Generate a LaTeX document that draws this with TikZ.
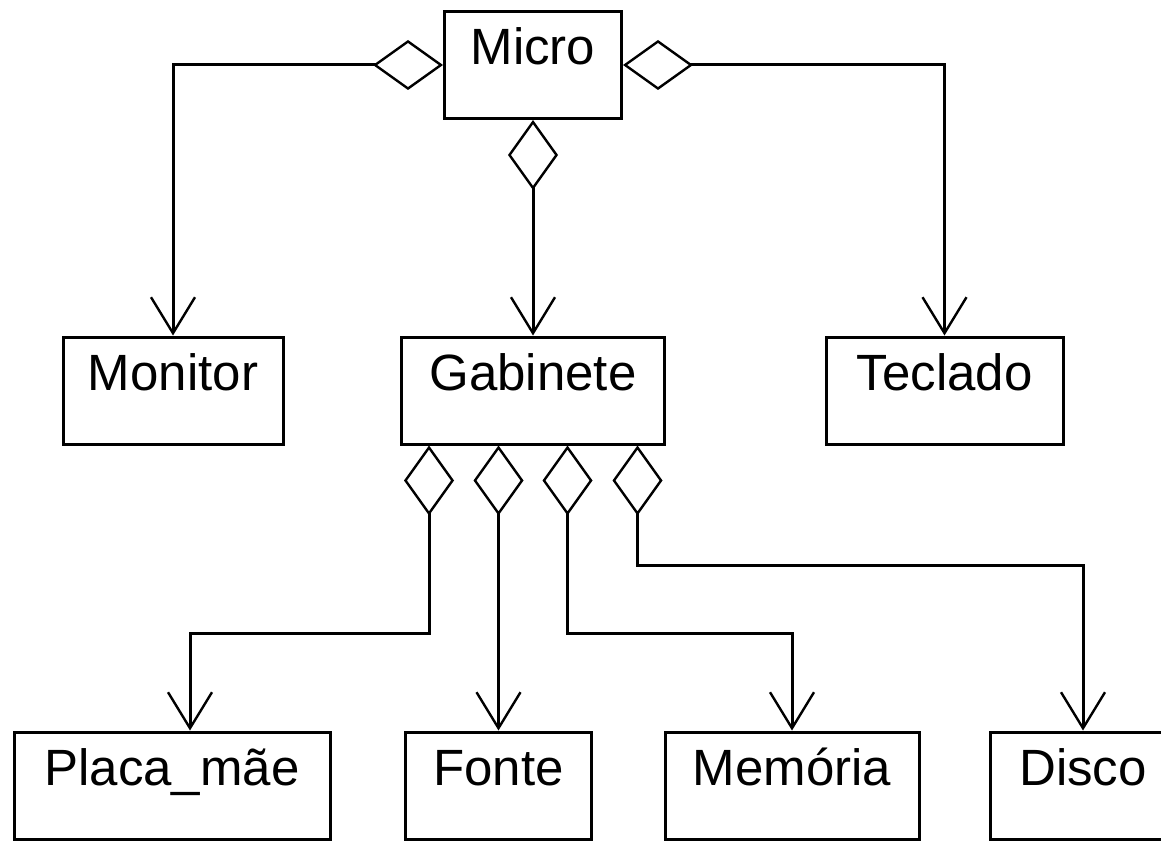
\documentclass[tikz,border=0pt]{standalone}
\usepackage{fontspec}
\setmainfont{Liberation Sans}
\usetikzlibrary{arrows.meta}
\begin{document}
\begin{tikzpicture}[x=1pt,y=-1pt,
  classbox/.style={draw, line width=3pt, inner xsep=0pt, inner ysep=0pt,
    minimum height=107pt, text height=53pt, text depth=54pt,
    font=\fontsize{51}{51}\selectfont},
  aggr/.style={line width=3pt,
    {Diamond[fill=white,length=70pt,width=50pt,line width=2.4pt]}-{Straight Barb[length=36pt,width=44pt,line width=2.4pt]}}
]
\clip (0,0) rectangle (1161,840);
\fill[white] (0,0) rectangle (1161,840);

% classes
\node[classbox, minimum width=177pt] (micro) at (533,65) {Micro};
\node[classbox, minimum width=220pt] (monitor) at (173,390.5) {Monitor};
\node[classbox, minimum width=263pt] (gab) at (533,390.5) {Gabinete};
\node[classbox, minimum width=237pt] (tec) at (944.5,390.5) {Teclado};
\node[classbox, minimum width=316pt] (placa) at (172,785.5) {Placa\_mãe};
\node[classbox, minimum width=186pt] (fonte) at (498.5,785.5) {Fonte};
\node[classbox, minimum width=254pt] (mem) at (792,785.5) {Memória};
\node[classbox, minimum width=186pt] (disco) at (1083,785.5) {Disco};

% aggregations of Micro
\draw[aggr] (micro.west) -| (monitor.north);
\draw[aggr] (micro.east) -| (tec.north);
\draw[aggr] (micro.south) -- (gab.north);

% aggregations of Gabinete
\draw[aggr] ([xshift=-104pt]gab.south) -- ++(0,188) -| ([xshift=18pt]placa.north);
\draw[aggr] ([xshift=-34.5pt]gab.south) -- (fonte.north);
\draw[aggr] ([xshift=34.5pt]gab.south) -- ++(0,188) -| (mem.north);
\draw[aggr] ([xshift=104.5pt]gab.south) -- ++(0,120) -| (disco.north);
\end{tikzpicture}
\end{document}
